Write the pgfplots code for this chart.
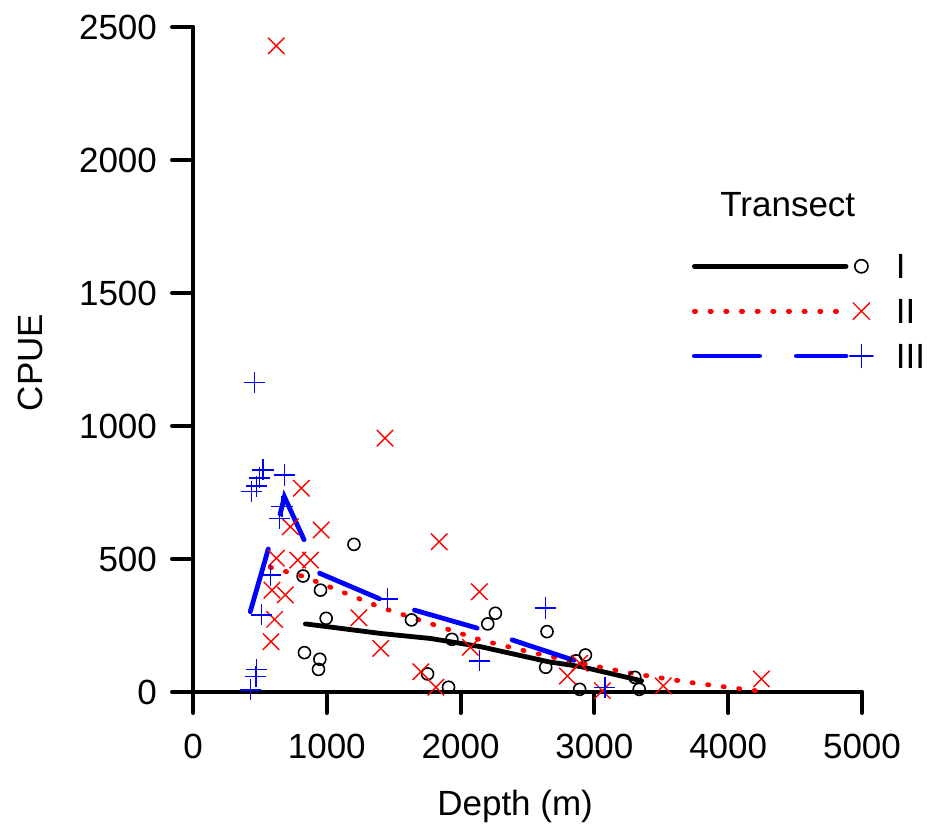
\documentclass[border=0pt]{standalone}
\usepackage{fontspec}
\setmainfont{Liberation Sans}
\usepackage{pgfplots}
\pgfplotsset{compat=1.18}
\definecolor{pred}{RGB}{255,0,0}
\definecolor{pblue}{RGB}{0,0,255}
\newcommand{\ff}{\fontsize{17.5}{21}\selectfont}
\begin{document}
\begin{tikzpicture}
\begin{axis}[
  at={(0,0)}, anchor=south west,
  scale only axis, width=334.5pt, height=332.5pt,
  xmin=0, xmax=5000, ymin=0, ymax=2500,
  axis x line*=bottom, axis y line*=left,
  axis line style={line width=2pt, line cap=round, black},
  xtick={0,1000,2000,3000,4000,5000},
  ytick={0,500,1000,1500,2000,2500},
  tick align=outside, major tick length=10.5pt,
  every tick/.style={black, line width=2pt, line cap=round},
  tick label style={font=\ff},
  xticklabel style={yshift=-7pt},
  yticklabel style={xshift=-4pt},
  /pgf/number format/assume math mode=true,
  /pgf/number format/1000 sep={},
  scaled ticks=false,
  clip=false,
  xlabel={Depth (m)}, ylabel={CPUE},
  label style={font=\ff},
  xlabel style={at={(0.4815,-0.185)}, anchor=base},
  ylabel style={at={(-0.2248,0.4955)}, anchor=base},
  legend image code/.code={
    \path[draw=none, fill=none] (0pt,-6pt) rectangle (90pt,6pt);
    \draw[#1, mark=none] (0pt,0pt) -- (75.8pt,0pt);
    \draw[#1] plot coordinates {(83.5pt,0pt)};
  },
  legend style={draw=none, fill=none, inner sep=0pt, outer sep=0pt,
    at={(0.7459,0.6583)}, anchor=north west,
    row sep=10.4pt, column sep=10.7pt, font=\ff,
    cells={anchor=west}, nodes={inner sep=0pt, text depth=0pt}},
]
% Transect I (circles)
\addplot[only marks, mark=o, mark size=3pt, mark options={black, line width=0.8pt}, forget plot] coordinates {
(823,436) (953,383) (995,277) (833,148) (948,123) (938,85) (1203,555)
(1633,271) (2260,296) (2203,256) (1935,198) (2646,227) (1753,68) (1910,18)
(2636,93) (2933,139) (2863,117) (2890,10) (3302,55) (3335,10)
};
% Transect II (crosses)
\addplot[only marks, mark=x, mark size=5.8pt, mark options={pred, line width=0.7pt}, forget plot] coordinates {
(623,2429) (1435,954) (810,766) (728,621) (958,609) (623,503) (783,496)
(878,496) (590,383) (690,365) (1240,279) (610,273) (1403,164) (583,189)
(1840,565) (2140,377) (2073,168) (1703,76) (1815,18) (2798,60) (2890,108)
(3060,5) (3515,23) (4248,49)
};
% Transect III (plus)
\addplot[only marks, mark=+, mark size=5.3pt, mark options={pblue, line width=0.7pt}, forget plot] coordinates {
(460,1164) (523,835) (495,805) (683,816) (473,774) (435,753) (665,697)
(648,653) (578,440) (510,290) (473,85) (470,58) (432,8) (1453,350)
(2633,316) (2140,117) (3078,18)
};
% smoothed lines
\addplot[black, line width=2.4pt, line cap=round, mark=none, forget plot] coordinates {
(840,256) (1403,220) (1778,201) (2153,170) (2653,114) (2903,95) (3278,51) (3353,42)
};
\addplot[pred, line width=2.4pt, line cap=round, dash pattern=on 0.6pt off 7.23pt, mark=none, forget plot] coordinates {
(578,469) (828,434) (1403,318) (1653,277) (2153,195) (2528,149) (2903,108) (3128,85) (3278,70) (3728,35) (4216,4)
};
\addplot[pblue, line width=2.4pt, line cap=round, dash pattern=on 32.6pt off 18.4pt, mark=none, forget plot] coordinates {
(428,302) (570,550) (653,672) (683,734) (845,556) (948,446) (1415,346) (1653,308) (2153,236) (2390,195) (2878,114)
};
\addlegendimage{black, line width=2.4pt, line cap=round, mark=o, mark size=3.3pt, mark options={solid, black, line width=0.8pt}}
\addlegendimage{pred, line width=2.4pt, line cap=round, dash pattern=on 0.6pt off 7.23pt, mark=x, mark size=5.8pt, mark options={solid, pred, line width=0.7pt}}
\addlegendimage{pblue, line width=2.4pt, line cap=round, dash pattern=on 32.6pt off 18.4pt, mark=+, mark size=5.8pt, mark options={solid, pblue, line width=0.7pt}}
\legend{I,II,III}
\node[anchor=base west, inner sep=0pt, font=\ff] at (rel axis cs:0.7877,0.7147) {Transect};
\end{axis}
\pgfresetboundingbox
\path[use as bounding box] (-96.5pt,-68pt) rectangle (367pt,346pt);
\end{tikzpicture}
\end{document}
